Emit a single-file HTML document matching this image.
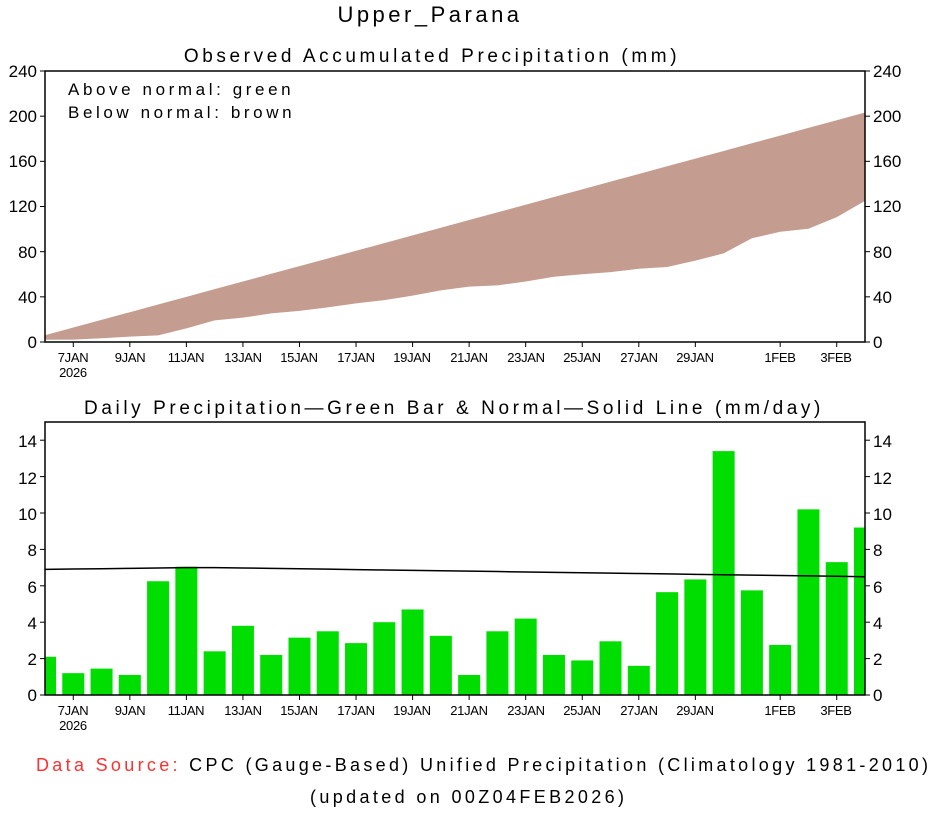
<!DOCTYPE html>
<html><head><meta charset="utf-8"><style>
body{margin:0;background:#fff}
svg text{font-family:"Liberation Sans",sans-serif;fill:#000}
</style></head><body>
<svg id="s" width="934" height="809" xmlns="http://www.w3.org/2000/svg">
<rect width="934" height="809" fill="#fff"/>
<text x="430" y="22" font-size="22" text-anchor="middle" letter-spacing="3.5">Upper_Parana</text>
<text x="432" y="62" font-size="19" text-anchor="middle" letter-spacing="3.6">Observed Accumulated Precipitation (mm)</text>
<text x="454" y="414" font-size="19" text-anchor="middle" letter-spacing="3.6">Daily Precipitation—Green Bar &amp; Normal—Solid Line (mm/day)</text>
<text x="68" y="95" font-size="17" letter-spacing="3.6">Above normal: green</text>
<text x="68" y="118" font-size="17" letter-spacing="3.6">Below normal: brown</text>
<g id="topg"></g>
<g id="botg"></g>
<g font-size="17" text-anchor="end">
<text x="37" y="77">240</text><text x="37" y="122">200</text><text x="37" y="167">160</text><text x="37" y="212">120</text><text x="37" y="258">80</text><text x="37" y="303">40</text><text x="37" y="348">0</text>
</g>
<g font-size="17">
<text x="873" y="77">240</text><text x="873" y="122">200</text><text x="873" y="167">160</text><text x="873" y="212">120</text><text x="873" y="258">80</text><text x="873" y="303">40</text><text x="873" y="348">0</text>
</g>
<g font-size="17" text-anchor="end">
<text x="37" y="447">14</text><text x="37" y="484">12</text><text x="37" y="520">10</text><text x="37" y="556">8</text><text x="37" y="593">6</text><text x="37" y="629">4</text><text x="37" y="665">2</text><text x="37" y="701">0</text>
</g>
<g font-size="17">
<text x="873" y="447">14</text><text x="873" y="484">12</text><text x="873" y="520">10</text><text x="873" y="556">8</text><text x="873" y="593">6</text><text x="873" y="629">4</text><text x="873" y="665">2</text><text x="873" y="701">0</text>
</g>
<g font-size="13" text-anchor="middle" letter-spacing="-0.3">
<text x="73" y="362">7JAN</text><text x="73" y="377">2026</text>
<text x="130" y="362">9JAN</text><text x="186" y="362">11JAN</text><text x="243" y="362">13JAN</text><text x="299" y="362">15JAN</text><text x="356" y="362">17JAN</text><text x="412" y="362">19JAN</text><text x="469" y="362">21JAN</text><text x="526" y="362">23JAN</text><text x="582" y="362">25JAN</text><text x="639" y="362">27JAN</text><text x="695" y="362">29JAN</text><text x="780" y="362">1FEB</text><text x="836" y="362">3FEB</text>
<text x="73" y="715">7JAN</text><text x="73" y="730">2026</text>
<text x="130" y="715">9JAN</text><text x="186" y="715">11JAN</text><text x="243" y="715">13JAN</text><text x="299" y="715">15JAN</text><text x="356" y="715">17JAN</text><text x="412" y="715">19JAN</text><text x="469" y="715">21JAN</text><text x="526" y="715">23JAN</text><text x="582" y="715">25JAN</text><text x="639" y="715">27JAN</text><text x="695" y="715">29JAN</text><text x="780" y="715">1FEB</text><text x="836" y="715">3FEB</text>
</g>
<text x="36" y="771" font-size="18" textLength="892" lengthAdjust="spacing"><tspan style="fill:#ff3030">Data Source:</tspan> CPC (Gauge-Based) Unified Precipitation (Climatology 1981-2010)</text>
<text x="310" y="803" font-size="18" textLength="314" lengthAdjust="spacing">(updated on 00Z04FEB2026)</text>
</svg>
<script>
(function(){
var NS="http://www.w3.org/2000/svg";
function el(p,t,a){var e=document.createElementNS(NS,t);for(var k in a)e.setAttribute(k,a[k]);p.appendChild(e);return e;}
var d=[2.1,1.2,1.45,1.1,6.25,7.05,2.4,3.8,2.2,3.15,3.5,2.85,4.0,4.7,3.25,1.1,3.5,4.2,2.2,1.9,2.95,1.6,5.65,6.35,13.4,5.75,2.75,10.2,7.3,9.2];
var L=45,R=865,W=(R-L)/29;
var tg=document.getElementById("topg"),bg=document.getElementById("botg");
function yT(v){return 342-v*271/240;}
var cum=[],c=0;for(var i=0;i<30;i++){c+=d[i];cum.push(c);}
var up=[],lo=[];
for(var i=0;i<=29;i++){var x=L+W*i;up.push(x+","+yT(6+6.8*i));var v=i==0?2:(i==29?125:cum[i-1]);lo.push(x+","+yT(v));}
el(tg,"polygon",{points:up.concat(lo.reverse()).join(" "),fill:"#c49c90"});
el(tg,"rect",{x:L,y:71,width:R-L,height:271,fill:"none",stroke:"#000","stroke-width":1.5});
var tl=[1,3,5,7,9,11,13,15,17,19,21,23,26,28];
[0,40,80,120,160,200,240].forEach(function(v){var y=yT(v);el(tg,"line",{x1:L-5,x2:L,y1:y,y2:y,stroke:"#000"});el(tg,"line",{x1:R,x2:R+5,y1:y,y2:y,stroke:"#000"});});
tl.forEach(function(i){var x=L+W*i;el(tg,"line",{x1:x,x2:x,y1:342,y2:347,stroke:"#000"});el(bg,"line",{x1:x,x2:x,y1:695,y2:700,stroke:"#000"});});
function yB(v){return 695-v*18.2;}
var cp=el(bg,"clipPath",{id:"cp"});
el(cp,"rect",{x:L,y:422,width:R-L,height:273});
var g=el(bg,"g",{"clip-path":"url(#cp)"});
for(var i=0;i<30;i++){var x=L+W*i;el(g,"rect",{x:x-11,y:yB(d[i]),width:22,height:d[i]*18.2,fill:"#00dd00"});}
var pts=[];for(var i=0;i<=29;i++){var n=i<6?6.9+0.02*i:7.0-0.5*(i-6)/23;pts.push((L+W*i)+","+yB(n));}
el(g,"polyline",{points:pts.join(" "),fill:"none",stroke:"#000","stroke-width":1.5});
el(bg,"rect",{x:L,y:422,width:R-L,height:273,fill:"none",stroke:"#000","stroke-width":1.5});
[0,2,4,6,8,10,12,14].forEach(function(v){var y=yB(v);el(bg,"line",{x1:L-5,x2:L,y1:y,y2:y,stroke:"#000"});el(bg,"line",{x1:R,x2:R+5,y1:y,y2:y,stroke:"#000"});});
})();
</script>
</body></html>
